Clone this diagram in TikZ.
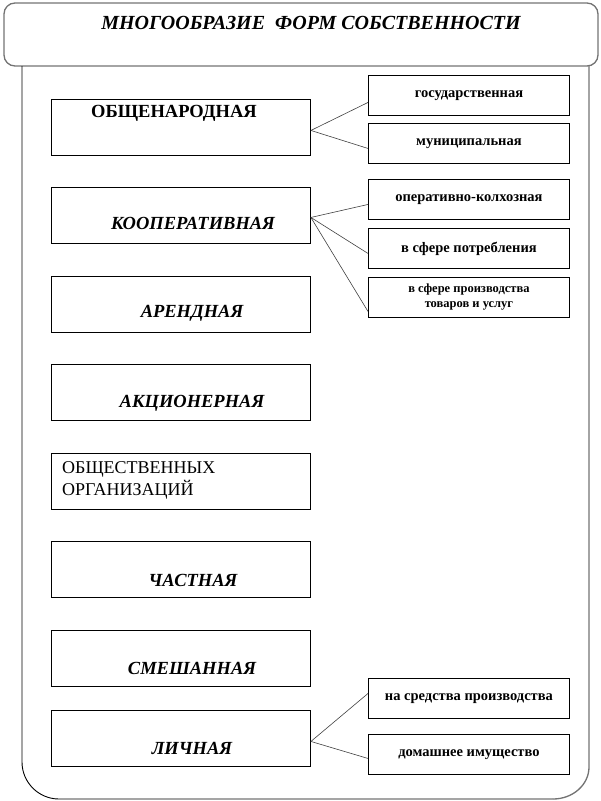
\documentclass[tikz,border=0pt]{standalone}
\usepackage{fontspec}
\setmainfont{Liberation Serif}
\begin{document}
\begin{tikzpicture}[x=1pt,y=-1pt,
  lbox/.style={draw=black,line width=0.9pt,minimum width=259pt,minimum height=56pt,anchor=north west,inner sep=0pt},
  rbox/.style={draw=black,line width=0.9pt,minimum width=201pt,minimum height=40pt,anchor=north west,inner sep=0pt,font=\fontsize{14.5}{16}\selectfont\bfseries,align=center},
  ltxt/.style={font=\fontsize{18.5}{22}\selectfont\bfseries\itshape,inner sep=0pt},
  conn/.style={draw=black!75,line width=0.6pt}]
\useasboundingbox (0,0) rectangle (601,801);
% frame
\draw[black!55,line width=1.3pt,rounded corners=11pt] (4,3) rectangle (598,66);
\node[font=\fontsize{20}{24}\selectfont\bfseries\itshape,inner sep=0pt] (title) at (311,23) {МНОГООБРАЗИЕ\ \ ФОРМ СОБСТВЕННОСТИ};
\coordinate (bl) at (22,66);
\coordinate (br) at (589,66);
\draw[black,line width=0.9pt] (bl) -- (22,762) .. controls (22,782.4) and (38.6,799) .. (59,799) -- (553,799);
\draw[black!55,line width=1.3pt] (553,799) .. controls (572.9,799) and (589,784.7) .. (589,767) -- (br);
% left boxes
\node[lbox] (b1) at (51,99) {};
\node[lbox] (b2) at (51,187) {};
\node[lbox] (b3) at (51,276) {};
\node[lbox] (b4) at (51,364) {};
\node[lbox] (b5) at (51,453) {};
\node[lbox] (b6) at (51,541) {};
\node[lbox] (b7) at (51,630) {};
\node[lbox] (b8) at (51,710) {};
\node[font=\fontsize{18.5}{22}\selectfont\bfseries,inner sep=0pt] (t1) at (174,113) {ОБЩЕНАРОДНАЯ};
\node[ltxt] (t2) at (193,223) {КООПЕРАТИВНАЯ};
\node[ltxt] (t3) at (192,313) {АРЕНДНАЯ};
\node[ltxt] (t4) at (192,403) {АКЦИОНЕРНАЯ};
\node[font=\fontsize{18}{22}\selectfont,align=left,anchor=west,inner sep=0pt] (t5) at (62,480) {ОБЩЕСТВЕННЫХ\\ОРГАНИЗАЦИЙ};
\node[ltxt] (t6) at (193,580) {ЧАСТНАЯ};
\node[ltxt] (t7) at (192,668) {СМЕШАННАЯ};
\node[ltxt] (t8) at (192,748) {ЛИЧНАЯ};
% right boxes
\node[rbox] (r1) at (368,75) {государственная};
\node[rbox] (r2) at (368,123) {муниципальная};
\node[rbox] (r3) at (368,179) {оперативно-колхозная};
\node[rbox] (r4) at (368,228) {в сфере потребления};
\node[rbox,font=\fontsize{12.5}{15}\selectfont\bfseries] (r5) at (368,277) {в сфере производства\\товаров и услуг};
\node[rbox] (r6) at (368,678) {на средства производства};
\node[rbox] (r7) at (368,734) {домашнее имущество};
% connectors
\draw[conn] ([yshift=-3pt]b1.east) -- ([yshift=-7pt]r1.west);
\draw[conn] ([yshift=-3pt]b1.east) -- ([yshift=-5pt]r2.west);
\draw[conn] ([yshift=-2pt]b2.east) -- ([yshift=-5pt]r3.west);
\draw[conn] ([yshift=-2pt]b2.east) -- ([yshift=-5pt]r4.west);
\draw[conn] ([yshift=-2pt]b2.east) -- ([yshift=-14pt]r5.west);
\draw[conn] ([yshift=-3pt]b8.east) -- ([yshift=5pt]r6.west);
\draw[conn] ([yshift=-3pt]b8.east) -- ([yshift=-4pt]r7.west);
\end{tikzpicture}
\end{document}
